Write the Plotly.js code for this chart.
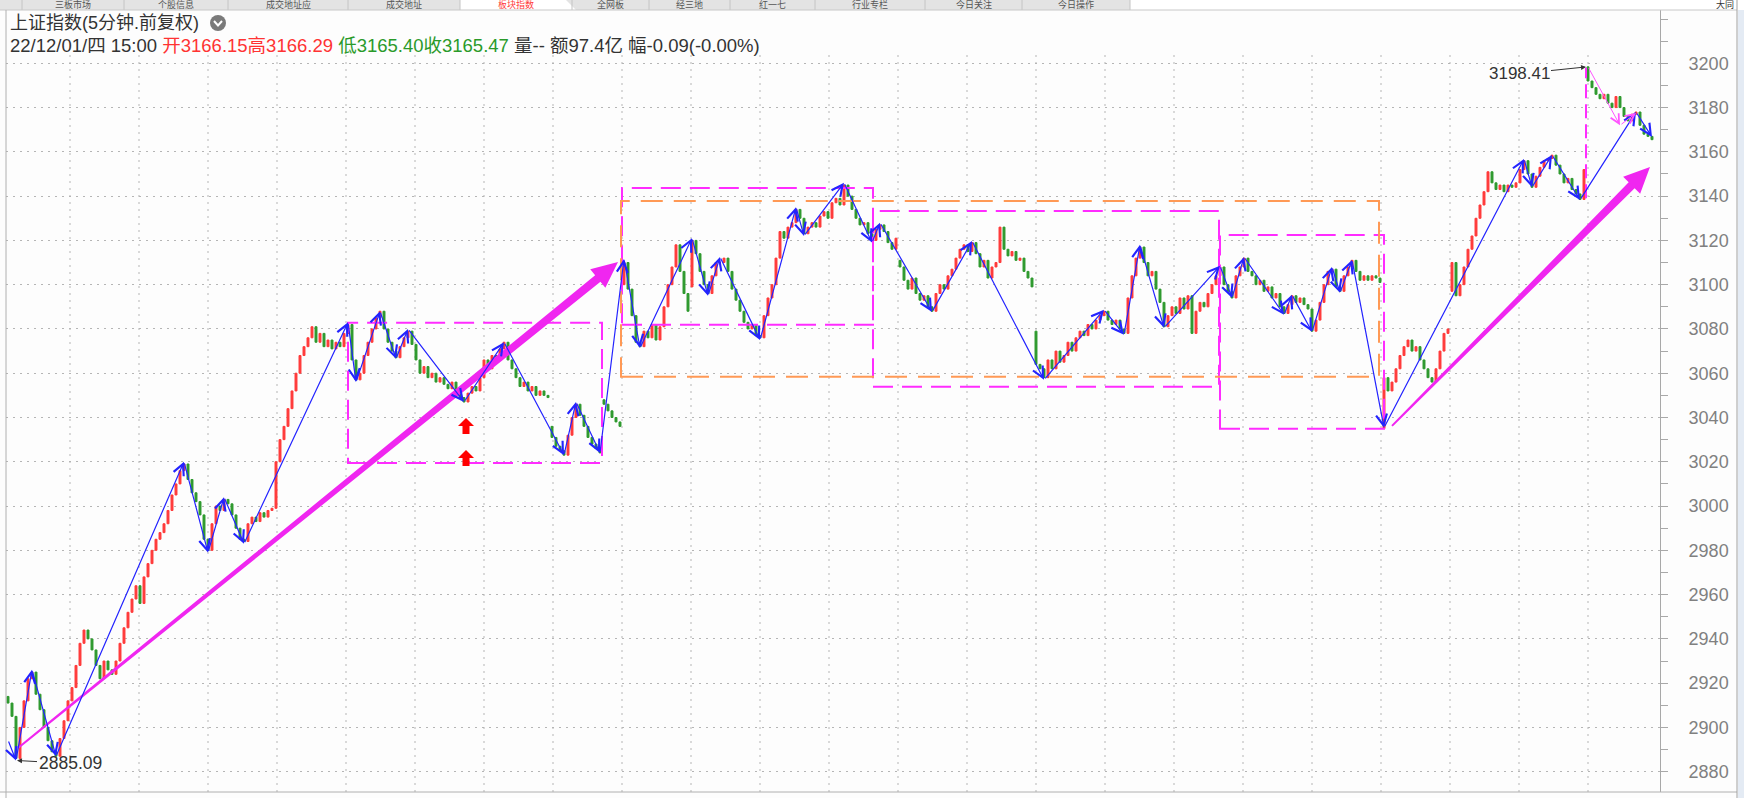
<!DOCTYPE html>
<html><head><meta charset="utf-8">
<script src="https://cdn.plot.ly/plotly-3.0.1.min.js"></script>
<style>html,body{margin:0;padding:0;background:#fdfdfd;overflow:hidden}#chart{width:1744px;height:798px}</style>
</head><body><div id="chart"></div>
<script>
// ---- 5-minute closes (bar index 0..411) ----
const closes = [
2911,2905,2886,2900,2912,2922,2925,2915,2908,2900,
2894,2889,2887,2895,2903,2912,2918,2928,2938,2944,
2940,2935,2928,2922,2930,2926,2924,2930,2938,2945,
2952,2958,2964,2956,2968,2974,2980,2985,2988,2992,
2998,3005,3010,3016,3019,3012,3006,3002,2996,2985,
2980,2992,3000,2998,3003,3001,2996,2990,2985,2984,
2992,2995,2993,2997,2995,2998,2999,3020,3030,3036,
3044,3052,3060,3068,3072,3076,3081,3074,3078,3072,
3075,3071,3074,3072,3078,3082,3066,3057,3060,3068,
3074,3080,3085,3088,3080,3074,3070,3067,3072,3076,
3079,3073,3066,3060,3063,3058,3060,3056,3058,3055,
3053,3056,3052,3049,3047,3051,3054,3052,3058,3066,
3062,3068,3066,3071,3074,3066,3062,3058,3054,3056,
3052,3054,3050,3052,3050,3049,3031,3027,3025,3023,
3032,3040,3046,3041,3036,3031,3028,3026,3024,3046,
3043,3040,3038,3036,3110,3098,3086,3074,3072,3079,
3076,3082,3075,3081,3090,3100,3108,3118,3106,3096,
3088,3120,3114,3106,3100,3096,3104,3110,3110,3112,
3106,3098,3093,3088,3083,3080,3082,3077,3076,3086,
3094,3100,3112,3124,3121,3126,3128,3134,3130,3123,
3126,3128,3126,3131,3133,3130,3137,3139,3136,3145,
3140,3134,3130,3127,3128,3123,3120,3125,3127,3124,
3119,3116,3121,3108,3102,3098,3103,3096,3093,3095,
3090,3088,3096,3100,3098,3104,3107,3112,3116,3118,
3115,3119,3114,3108,3111,3103,3108,3110,3126,3116,
3113,3115,3111,3112,3106,3103,3099,3064,3062,3058,
3066,3062,3070,3065,3068,3074,3070,3076,3079,3077,
3082,3080,3084,3086,3088,3084,3082,3084,3080,3078,
3094,3104,3112,3117,3110,3104,3106,3098,3092,3081,
3086,3090,3087,3094,3089,3095,3078,3088,3092,3090,
3096,3100,3104,3108,3100,3097,3094,3104,3108,3112,
3106,3104,3100,3102,3097,3099,3094,3096,3090,3087,
3091,3095,3092,3094,3091,3089,3079,3084,3092,3100,
3106,3107,3099,3097,3104,3108,3111,3106,3102,3104,
3102,3104,3103,3101,3058,3052,3056,3062,3068,3072,
3075,3070,3072,3066,3062,3058,3056,3062,3070,3078,
3080,3110,3095,3100,3108,3116,3122,3130,3136,3142,
3151,3146,3143,3145,3142,3145,3144,3146,3152,3156,
3150,3144,3149,3153,3156,3157,3158.5,3154,3150,3146,
3148,3143,3141,3138.5,3152,3192,3189,3186,3184,3186,
3182,3180,3185,3180,3176,3174,3177,3178,3172,3168,
3167,3165.5
];
// bars that open on a gap (index, open price)
const gapIdx  = [0, 136, 149, 154, 171, 223, 257, 344, 361, 395];
const gapOpen = [2914, 3036, 3048, 3100, 3099, 3111, 3079, 3035, 3097, 3198.41];

// blue zigzag pivots
const zzIdx = [0,2,6,12,44,50,54,59,85,87,93,97,100,114,124,139,142,148,154,158,
  171,175,178,188,197,199,209,216,218,231,241,259,274,279,283,289,303,306,309,319,
  321,326,331,333,336,344,379,381,386,393,407,411];
const zzPx = [2894.3,2885.09,2926,2887,3020,2979,3004,2983,3083,3056,3088,3066.5,3080,3047,3074,3023,3047,3024,3111.6,3071.4,
  3121,3095,3112.5,3075,3135,3122,3146,3119,3128,3087.7,3119.7,3057,3088.7,3077.4,3118,3080.5,3108.5,3094,3112.5,3086.4,
  3095.4,3078.7,3108,3096.3,3111.2,3035.4,3156.8,3144,3158.6,3138.3,3178,3166.7];
// thin magenta zigzag after the high
const zz2Idx = [395, 403, 407];
const zz2Px  = [3198.41, 3172, 3177.5];

// magenta dashed boxes
const boxX0  = [85, 153.5, 216.25, 303];
const boxX1  = [148.5, 216.25, 302.75, 344];
const boxTop = [3082.8, 3143.7, 3133.3, 3122.4];
const boxBot = [3019.5, 3081.9, 3053.9, 3034.9];
// orange dashed box
const oBoxX = [153.25, 342.75];
const oBoxY = [3058.4, 3137.8];
// magenta dashed vertical
const mVertX = 394.5, mVertY = [3139, 3198];

// thick magenta trend arrows
const trendX0 = [2.5, 346], trendP0 = [2890.7, 3036.2];
const trendX1 = [152.5, 410.5], trendP1 = [3110.2, 3153.2];

// red up arrows
const upIdx = [114.5, 114.5], upPx = [3036.2, 3021.7];

// extreme labels
const hiIdx = 394.75, hiVal = 3198.41;
const loIdx = 2, loVal = 2885.09;

const yTicks = [2880,2900,2920,2940,2960,2980,3000,3020,3040,3060,3080,3100,3120,3140,3160,3180,3200];

const tabNames = ["三板市场","个股信息","成交地址应","成交地址","板块指数","全网板","经三地","红一七","行业专栏","今日关注","今日操作"];
const tabEdges = [22,124,228,348,460,572,649,730,815,925,1022,1130];
const activeTab = 4;

// ---- geometry ----
const L=6, T=10, W=1654, H=782;
const XR=[-0.5,413], YR=[2870.83,3224.08];
const pxX=i=>(i-XR[0])/(XR[1]-XR[0])*W, pxY=p=>(YR[1]-p)/(YR[1]-YR[0])*H;
const dX=x=>x/W*(XR[1]-XR[0])+XR[0], dY=y=>YR[1]-y/H*(YR[1]-YR[0]);
const xp=px=>(px-L)/W, yp=py=>1-(py-T)/H;

// ---- candles ----
const N=closes.length, idx=[], op=[], hi=[], lo=[];
for(let i=0;i<N;i++){
  idx.push(i);
  const g=gapIdx.indexOf(i);
  const o = g>=0 ? gapOpen[g] : closes[i-1];
  op.push(o); hi.push(Math.max(o,closes[i])); lo.push(Math.min(o,closes[i]));
}
const RED='#ff3b3b', GREEN='#2f9a2f';
const traces=[{
  type:'candlestick', x:idx, open:op, high:hi, low:lo, close:closes,
  increasing:{line:{color:RED,width:1},fillcolor:RED},
  decreasing:{line:{color:GREEN,width:1},fillcolor:GREEN},
  whiskerwidth:0, hoverinfo:'skip', showlegend:false
}];

const shapes=[], ann=[];
// vertical dotted grid
for(let k=0;k<23;k++){
  const gx=15.5+17.25*k;
  shapes.push({type:'line',layer:'below',xref:'x',yref:'y',x0:gx,x1:gx,y0:YR[0],y1:3204,line:{color:'#b5b5b5',width:1,dash:'2px,5px'}});
}
// boxes
for(let k=0;k<boxX0.length;k++){
  shapes.push({type:'rect',xref:'x',yref:'y',x0:boxX0[k],x1:boxX1[k],y0:boxBot[k],y1:boxTop[k],line:{color:'#ff2cff',width:2,dash:'20px,9px'}});
}
shapes.push({type:'rect',xref:'x',yref:'y',x0:oBoxX[0],x1:oBoxX[1],y0:oBoxY[0],y1:oBoxY[1],line:{color:'#ff9955',width:2,dash:'22px,11px'}});
shapes.push({type:'line',xref:'x',yref:'y',x0:mVertX,x1:mVertX,y0:mVertY[0],y1:mVertY[1],line:{color:'#ff2cff',width:2,dash:'14px,6px'}});

// tapered trend arrows
function taper(i0,p0,i1,p1,w0,w1,hw,hl){
  const ax=pxX(i0), ay=pxY(p0), bx=pxX(i1), by=pxY(p1);
  const len=Math.hypot(bx-ax,by-ay), ux=(bx-ax)/len, uy=(by-ay)/len, nx=-uy, ny=ux;
  const hx=bx-ux*hl, hy=by-uy*hl;
  const pts=[[ax+nx*w0,ay+ny*w0],[hx+nx*w1,hy+ny*w1],[hx+nx*hw,hy+ny*hw],[bx,by],[hx-nx*hw,hy-ny*hw],[hx-nx*w1,hy-ny*w1],[ax-nx*w0,ay-ny*w0]];
  return 'M'+pts.map(q=>dX(q[0])+','+dY(q[1])).join('L')+'Z';
}
for(let k=0;k<trendX0.length;k++){
  shapes.push({type:'path',xref:'x',yref:'y',path:taper(trendX0[k],trendP0[k],trendX1[k],trendP1[k],1,4.2,12,26),fillcolor:'#f026f0',line:{width:0}});
}
// red up arrows
function upArrow(i,p){
  const cx=pxX(i), cy=pxY(p);
  const pts=[[cx,cy-8],[cx+8,cy],[cx+3.5,cy],[cx+3.5,cy+8],[cx-3.5,cy+8],[cx-3.5,cy],[cx-8,cy]];
  return 'M'+pts.map(q=>dX(q[0])+','+dY(q[1])).join('L')+'Z';
}
for(let k=0;k<upIdx.length;k++){
  shapes.push({type:'path',xref:'x',yref:'y',path:upArrow(upIdx[k],upPx[k]),fillcolor:'#ff0000',line:{width:0}});
}

// zigzag arrows
for(let k=1;k<zzIdx.length;k++){
  ann.push({xref:'x',yref:'y',axref:'x',ayref:'y',x:zzIdx[k],y:zzPx[k],ax:zzIdx[k-1],ay:zzPx[k-1],text:'',showarrow:true,arrowhead:5,arrowsize:1.8,arrowwidth:1.2,arrowcolor:'#2323ff',standoff:0,startstandoff:0});
}
for(let k=1;k<zz2Idx.length;k++){
  ann.push({xref:'x',yref:'y',axref:'x',ayref:'y',x:zz2Idx[k],y:zz2Px[k],ax:zz2Idx[k-1],ay:zz2Px[k-1],text:'',showarrow:true,arrowhead:5,arrowsize:1.8,arrowwidth:1,arrowcolor:'#ff55ff',standoff:0});
}
// extreme labels
const FONT='Liberation Sans, Arial, Noto Sans CJK SC, sans-serif';
ann.push({xref:'x',yref:'y',x:hiIdx,y:hiVal,text:hiVal.toFixed(2),showarrow:true,ax:-68,ay:7,arrowhead:2,arrowsize:1,arrowwidth:1,arrowcolor:'#333',standoff:1,font:{family:FONT,size:17,color:'#333'}});
ann.push({xref:'x',yref:'y',x:loIdx,y:loVal,text:loVal.toFixed(2),showarrow:true,ax:54,ay:3,arrowhead:2,arrowsize:1,arrowwidth:1,arrowcolor:'#333',standoff:1,font:{family:FONT,size:17.5,color:'#333'}});

// header
ann.push({xref:'paper',yref:'paper',x:xp(8),y:yp(23),xanchor:'left',yanchor:'middle',showarrow:false,text:'上证指数(5分钟.前复权)',font:{family:FONT,size:18,color:'#333'}});
shapes.push({type:'circle',xref:'paper',yref:'paper',x0:xp(210),x1:xp(226),y0:yp(31),y1:yp(15),fillcolor:'#7a7a7a',line:{width:0}});
shapes.push({type:'path',xref:'paper',yref:'paper',path:`M${xp(214)},${yp(21)}L${xp(218)},${yp(25.5)}L${xp(222)},${yp(21)}`,line:{color:'#fff',width:2}});
ann.push({xref:'paper',yref:'paper',x:xp(8),y:yp(45),xanchor:'left',yanchor:'middle',showarrow:false,
  text:'22/12/01/四 15:00 <span style="color:#ff3333">开3166.15高3166.29</span> <span style="color:#2a9a2a">低3165.40收3165.47</span> 量-- 额97.4亿 幅-0.09(-0.00%)',
  font:{family:FONT,size:18.5,color:'#333'}});

// tab bar
shapes.push({type:'rect',xref:'paper',yref:'paper',x0:xp(0),x1:xp(1744),y0:yp(10),y1:yp(0),fillcolor:'#ffffff',line:{width:0},layer:'below'});
shapes.push({type:'rect',xref:'paper',yref:'paper',x0:xp(0),x1:xp(tabEdges[tabEdges.length-1]),y0:yp(10),y1:yp(0),fillcolor:'#e3e3e3',line:{width:0}});
shapes.push({type:'path',xref:'paper',yref:'paper',path:`M${xp(tabEdges[activeTab])},${yp(10)}L${xp(tabEdges[activeTab])},${yp(0)}L${xp(tabEdges[activeTab+1]-6)},${yp(0)}L${xp(tabEdges[activeTab+1]+4)},${yp(10)}Z`,fillcolor:'#ffffff',line:{width:0}});
for(let k=0;k<tabEdges.length;k++){
  shapes.push({type:'line',xref:'paper',yref:'paper',x0:xp(tabEdges[k]),x1:xp(tabEdges[k]),y0:yp(10),y1:yp(0),line:{color:'#c4c4c4',width:1}});
}
shapes.push({type:'line',xref:'paper',yref:'paper',x0:xp(0),x1:xp(1737),y0:yp(10),y1:yp(10),line:{color:'#c8c8c8',width:1}});
for(let k=0;k<tabNames.length;k++){
  ann.push({xref:'paper',yref:'paper',x:xp((tabEdges[k]+tabEdges[k+1])/2),y:yp(5),xanchor:'center',yanchor:'middle',showarrow:false,text:tabNames[k],
    font:{family:FONT,size:9,color:k===activeTab?'#ff3a3a':'#555'},borderpad:0});
}
ann.push({xref:'paper',yref:'paper',x:xp(1735),y:yp(5),xanchor:'right',yanchor:'middle',showarrow:false,text:'大同',font:{family:FONT,size:9,color:'#333'},borderpad:0});

// frame
shapes.push({type:'line',xref:'paper',yref:'paper',x0:0,x1:0,y0:yp(798),y1:yp(10),line:{color:'#b0b0b0',width:1}});
shapes.push({type:'line',xref:'paper',yref:'paper',x0:xp(0),x1:xp(1737),y0:yp(792),y1:yp(792),line:{color:'#b0b0b0',width:1}});
shapes.push({type:'line',xref:'paper',yref:'paper',x0:xp(1737),x1:xp(1737),y0:yp(798),y1:yp(0),line:{color:'#a0a0a0',width:1}});
shapes.push({type:'rect',xref:'paper',yref:'paper',x0:xp(1738),x1:xp(1744),y0:yp(798),y1:yp(10),fillcolor:'#e4ebf4',line:{width:0}});

const layout={
  width:1744,height:798,margin:{l:L,r:1744-L-W,t:T,b:798-T-H},
  paper_bgcolor:'#fdfdfd',plot_bgcolor:'#fdfdfd',showlegend:false,dragmode:false,
  xaxis:{range:XR,showgrid:false,zeroline:false,showticklabels:false,ticks:'',showline:false,rangeslider:{visible:false},fixedrange:true},
  yaxis:{range:YR,side:'right',tickmode:'array',tickvals:yTicks,ticktext:yTicks.map(String),
    ticks:'outside',ticklen:7,tickcolor:'#a8a8a8',tickwidth:1,ticklabelstandoff:17,
    minor:{tickmode:'linear',tick0:2870,dtick:10,ticks:'outside',ticklen:7,tickcolor:'#a8a8a8',showgrid:false},
    showline:true,linecolor:'#a8a8a8',linewidth:1,
    showgrid:true,gridcolor:'#b5b5b5',gridwidth:1,griddash:'2px,5px',zeroline:false,
    tickfont:{family:FONT,size:18,color:'#808080'},fixedrange:true},
  shapes:shapes,annotations:ann
};
Plotly.newPlot('chart',traces,layout,{displayModeBar:false,staticPlot:true});
</script></body></html>
